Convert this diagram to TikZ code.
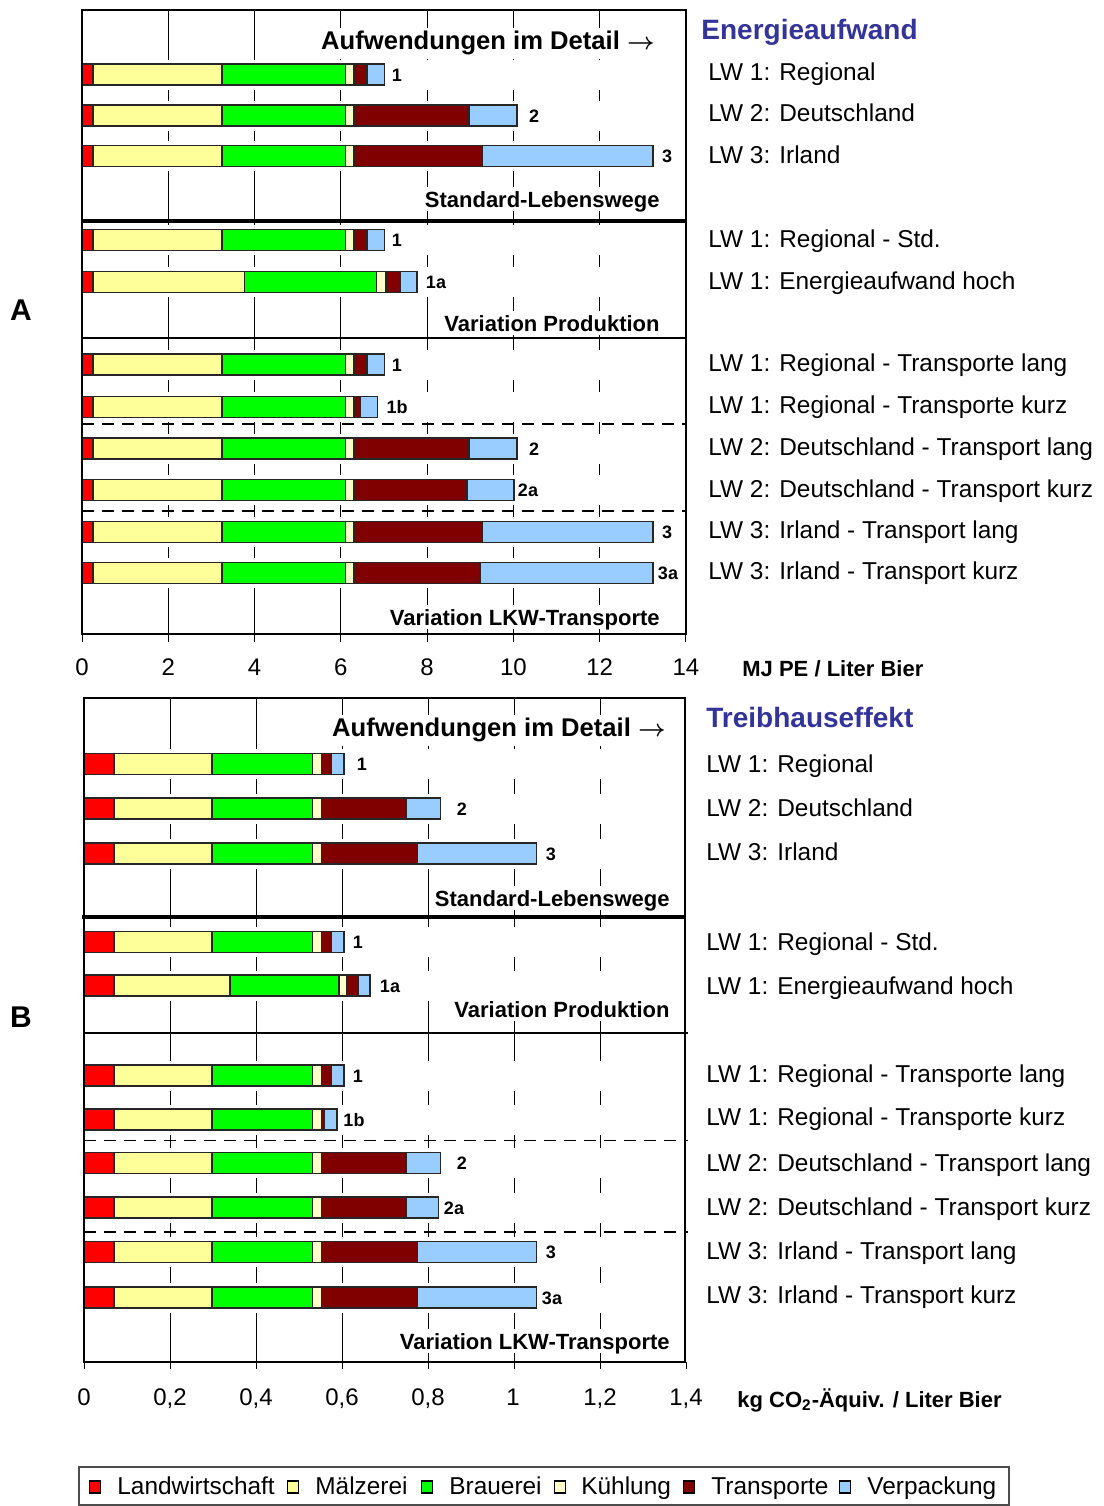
\documentclass[tikz,border=0pt]{standalone}
\usepackage{amsmath}
\usepackage{fontspec}
\setmainfont{Liberation Sans}

\definecolor{cLand}{RGB}{255,0,0}
\definecolor{cMalz}{RGB}{255,255,153}
\definecolor{cBrau}{RGB}{0,255,0}
\definecolor{cKuehl}{RGB}{255,255,204}
\definecolor{cTrans}{RGB}{128,0,0}
\definecolor{cVerp}{RGB}{153,204,255}
\definecolor{cTitel}{RGB}{51,51,153}

% Balken: #1 = y, #2..#7 = kumulierte Enden
\newcommand{\barra}[7]{%
  \filldraw[segm, fill=cLand]  (0,#1-10.5)  rectangle (#2,#1+10.5);
  \filldraw[segm, fill=cMalz]  (#2,#1-10.5) rectangle (#3,#1+10.5);
  \filldraw[segm, fill=cBrau]  (#3,#1-10.5) rectangle (#4,#1+10.5);
  \filldraw[segm, fill=cKuehl] (#4,#1-10.5) rectangle (#5,#1+10.5);
  \filldraw[segm, fill=cTrans] (#5,#1-10.5) rectangle (#6,#1+10.5);
  \filldraw[segm, fill=cVerp]  (#6,#1-10.5) rectangle (#7,#1+10.5);
}

\begin{document}
\begin{tikzpicture}[x=0.5pt, y=-0.5pt]
\tikzset{ >=latex,
  segm/.style={draw=black!85, line width=0.8pt},
  grade/.style={black, line width=0.5pt},
  lwtxt/.style={anchor=west, inner sep=0pt, font=\fontsize{12.2}{14}\selectfont, text height=8.7pt, text depth=0pt},
  eixo/.style={inner sep=0pt, font=\fontsize{12}{14}\selectfont, text height=8.6pt, text depth=0pt},
  secao/.style={anchor=east, fill=white, inner sep=2pt, font=\bfseries\fontsize{11}{13}\selectfont, text height=8pt, text depth=0pt},
  detalhe/.style={anchor=east, fill=white, inner sep=2pt, font=\bfseries\fontsize{12.8}{15}\selectfont, text height=9pt, text depth=2.5pt},
  rotbar/.style={inner sep=0pt, font=\bfseries\fontsize{9}{11}\selectfont, text height=6.5pt, text depth=0pt},
  titulo/.style={anchor=west, inner sep=0pt, text=cTitel, font=\bfseries\fontsize{14}{17}\selectfont, text height=10pt, text depth=0pt},
  unidade/.style={anchor=west, inner sep=0pt, font=\bfseries\fontsize{11}{13}\selectfont, text height=8pt, text depth=0pt},
  legq/.style={draw=black, line width=0.6pt},
}

\useasboundingbox (0,0) rectangle (1104,1506);

%%% Diagramm A (Energieaufwand)

% Gitter
\foreach \k in {1,...,6} \draw[grade] (82+86.28*\k,10) -- (82+86.28*\k,634);
\foreach \k in {0,...,7} \draw[grade] (82+86.28*\k,634) -- (82+86.28*\k,642);
\foreach \yb in {74.5,115.5,156,240,282,364.5,407,448.7,490,532,573}
  \fill[white] (83,\yb-15) rectangle (685,\yb+15);

% Texte im Diagramm
\node[detalhe] (detA) at (659,43) {Aufwendungen im Detail $\boldsymbol{\rightarrow}$};
\node[secao] (stdA) at (664,199) {Standard-Lebenswege};
\node[secao] (prodA) at (664,323) {Variation Produktion};
\node[secao] (lkwA) at (664,617) {Variation LKW-Transporte};

% Trennlinien
\draw[line width=2pt] (82,221) -- (686,221);
\draw[line width=0.7pt] (82,338) -- (686,338);
\draw[line width=0.8pt, dash pattern=on 6pt off 4pt] (82,424) -- (686,424);
\draw[line width=0.8pt, dash pattern=on 6pt off 4pt] (82,511) -- (686,511);

% Balken
\begin{scope}[xshift=41pt, x=21.57pt]
\barra{74.5}{0.26}{3.24}{6.11}{6.30}{6.61}{7.01}
\barra{115.5}{0.26}{3.24}{6.11}{6.30}{8.97}{10.08}
\barra{156}{0.26}{3.24}{6.11}{6.30}{9.27}{13.23}
% Produktion
\barra{240}{0.26}{3.24}{6.11}{6.30}{6.61}{7.01}
\barra{282}{0.26}{3.77}{6.83}{7.05}{7.37}{7.77}
% LKW
\barra{364.5}{0.26}{3.24}{6.11}{6.30}{6.61}{7.01}
\barra{407}{0.26}{3.24}{6.11}{6.30}{6.45}{6.85}
\barra{448.7}{0.26}{3.24}{6.11}{6.30}{8.97}{10.08}
\barra{490}{0.26}{3.24}{6.11}{6.30}{8.92}{10.01}
\barra{532}{0.26}{3.24}{6.11}{6.30}{9.27}{13.23}
\barra{573}{0.26}{3.24}{6.11}{6.30}{9.22}{13.23}
\end{scope}

% Balkennummern
\node[rotbar] (a1) at (397,74.5) {1};
\node[rotbar] (a2) at (534,115.5) {2};
\node[rotbar] (a3) at (667,156) {3};
\node[rotbar] (a1p) at (397,240) {1};
\node[rotbar] (a1a) at (436,282) {1a};
\node[rotbar] (a1l) at (397,364.5) {1};
\node[rotbar] (a1b) at (397,407) {1b};
\node[rotbar] (a2l) at (534,448.7) {2};
\node[rotbar] (a2a) at (528,490) {2a};
\node[rotbar] (a3l) at (667,532) {3};
\node[rotbar] (a3a) at (668,573) {3a};

% Rahmen
\draw[line width=0.9pt] (82,10) rectangle (686,634);

% Achse
\foreach \v in {0,2,...,14}
  \node[eixo] (xa\v) at (82+43.14*\v,667) {\v};
\node[unidade] (einhA) at (742,668) {MJ PE / Liter Bier};
\node[font=\bfseries\fontsize{15}{18}\selectfont, inner sep=0pt] (A) at (21,310) {A};

% Legende rechts
\node[titulo] (titA) at (701,29) {Energieaufwand};
\node[lwtxt] (rA1) at (708,72) {LW 1: Regional};
\node[lwtxt] (rA2) at (708,113) {LW 2: Deutschland};
\node[lwtxt] (rA3) at (708,155) {LW 3: Irland};
\node[lwtxt] (rA4) at (708,239) {LW 1: Regional - Std.};
\node[lwtxt] (rA5) at (708,281) {LW 1: Energieaufwand hoch};
\node[lwtxt] (rA6) at (708,363) {LW 1: Regional - Transporte lang};
\node[lwtxt] (rA7) at (708,405) {LW 1: Regional - Transporte kurz};
\node[lwtxt] (rA8) at (708,447) {LW 2: Deutschland - Transport lang};
\node[lwtxt] (rA9) at (708,489) {LW 2: Deutschland - Transport kurz};
\node[lwtxt] (rA10) at (708,530) {LW 3: Irland - Transport lang};
\node[lwtxt] (rA11) at (708,571) {LW 3: Irland - Transport kurz};

%%% Diagramm B (Treibhauseffekt)

% Gitter
\foreach \k in {1,...,6} \draw[grade] (84+86*\k,698) -- (84+86*\k,1362);
\foreach \k in {0,...,7} \draw[grade] (84+86*\k,1362) -- (84+86*\k,1369);
\foreach \yb in {764,808.5,853.5,942,985.5,1075.5,1119.5,1163,1207.5,1252,1297.5}
  \fill[white] (85,\yb-15) rectangle (684,\yb+15);

% Texte im Diagramm
\node[detalhe] (detB) at (670,730) {Aufwendungen im Detail $\boldsymbol{\rightarrow}$};
\node[secao] (stdB) at (674,898) {Standard-Lebenswege};
\node[secao] (prodB) at (674,1009) {Variation Produktion};
\node[secao] (lkwB) at (674,1341) {Variation LKW-Transporte};

% Trennlinien
\draw[line width=2pt] (82,917) -- (686,917);
\draw[line width=0.7pt] (84,1033) -- (688,1033);
\draw[line width=0.8pt, dash pattern=on 6pt off 4pt] (84,1140.5) -- (688,1140.5);
\draw[line width=0.8pt, dash pattern=on 6pt off 4pt] (84,1232) -- (688,1232);

% Balken
\begin{scope}[xshift=42pt, x=215pt]
\barra{764}{0.070}{0.298}{0.531}{0.552}{0.576}{0.604}
\barra{808.5}{0.070}{0.298}{0.531}{0.552}{0.749}{0.829}
\barra{853.5}{0.070}{0.298}{0.531}{0.552}{0.776}{1.052}
% Produktion
\barra{942}{0.070}{0.298}{0.531}{0.552}{0.576}{0.604}
\barra{985.5}{0.070}{0.340}{0.593}{0.610}{0.638}{0.665}
% LKW
\barra{1075.5}{0.070}{0.298}{0.531}{0.552}{0.576}{0.604}
\barra{1119.5}{0.070}{0.298}{0.531}{0.552}{0.559}{0.588}
\barra{1163}{0.070}{0.298}{0.531}{0.552}{0.749}{0.829}
\barra{1207.5}{0.070}{0.298}{0.531}{0.552}{0.749}{0.824}
\barra{1252}{0.070}{0.298}{0.531}{0.552}{0.776}{1.052}
\barra{1297.5}{0.070}{0.298}{0.531}{0.552}{0.776}{1.052}
\end{scope}

% Balkennummern
\node[rotbar] (b1) at (362,764) {1};
\node[rotbar] (b2) at (462,808.5) {2};
\node[rotbar] (b3) at (551,853.5) {3};
\node[rotbar] (b1p) at (358,942) {1};
\node[rotbar] (b1a) at (390,985.5) {1a};
\node[rotbar] (b1l) at (358,1075.5) {1};
\node[rotbar] (b1b) at (354,1119.5) {1b};
\node[rotbar] (b2l) at (462,1163) {2};
\node[rotbar] (b2a) at (454,1207.5) {2a};
\node[rotbar] (b3l) at (551,1252) {3};
\node[rotbar] (b3a) at (552,1297.5) {3a};

% Rahmen
\draw[line width=0.9pt] (84,698) rectangle (685,1362);

% Achse
\node[eixo] (xb0) at (84,1397) {0};
\node[eixo] (xb1) at (170,1397) {0,2};
\node[eixo] (xb2) at (256,1397) {0,4};
\node[eixo] (xb3) at (342,1397) {0,6};
\node[eixo] (xb4) at (428,1397) {0,8};
\node[eixo] (xb5) at (513,1397) {1};
\node[eixo] (xb6) at (600,1397) {1,2};
\node[eixo] (xb7) at (686,1397) {1,4};
\node[unidade] (einhB) at (737,1399) {kg CO\textsubscript{2}-Äquiv. / Liter Bier};
\node[font=\bfseries\fontsize{15}{18}\selectfont, inner sep=0pt] (B) at (21,1017) {B};

% Legende rechts
\node[titulo] (titB) at (706,717) {Treibhauseffekt};
\node[lwtxt] (rB1) at (706,764) {LW 1: Regional};
\node[lwtxt] (rB2) at (706,808) {LW 2: Deutschland};
\node[lwtxt] (rB3) at (706,852) {LW 3: Irland};
\node[lwtxt] (rB4) at (706,942) {LW 1: Regional - Std.};
\node[lwtxt] (rB5) at (706,986) {LW 1: Energieaufwand hoch};
\node[lwtxt] (rB6) at (706,1074) {LW 1: Regional - Transporte lang};
\node[lwtxt] (rB7) at (706,1117) {LW 1: Regional - Transporte kurz};
\node[lwtxt] (rB8) at (706,1163) {LW 2: Deutschland - Transport lang};
\node[lwtxt] (rB9) at (706,1207) {LW 2: Deutschland - Transport kurz};
\node[lwtxt] (rB10) at (706,1251) {LW 3: Irland - Transport lang};
\node[lwtxt] (rB11) at (706,1295) {LW 3: Irland - Transport kurz};

%%% Legende unten
\draw[black!70, line width=0.6pt] (79,1467) rectangle (1009,1505);
\filldraw[legq, fill=cLand]  (89.5,1481) rectangle (100.5,1493);
\filldraw[legq, fill=cMalz]  (287.5,1481) rectangle (298.5,1493);
\filldraw[legq, fill=cBrau]  (421.5,1481) rectangle (432.5,1493);
\filldraw[legq, fill=cKuehl] (554.5,1481) rectangle (565.5,1493);
\filldraw[legq, fill=cTrans] (683.5,1481) rectangle (694.5,1493);
\filldraw[legq, fill=cVerp]  (839.5,1481) rectangle (850.5,1493);
\node[lwtxt] (lLand)  at (117,1486) {Landwirtschaft};
\node[lwtxt] (lMalz)  at (315,1486) {Mälzerei};
\node[lwtxt] (lBrau)  at (449,1486) {Brauerei};
\node[lwtxt] (lKuehl) at (581,1486) {Kühlung};
\node[lwtxt] (lTrans) at (711,1486) {Transporte};
\node[lwtxt] (lVerp)  at (867,1486) {Verpackung};

\end{tikzpicture}
\end{document}
